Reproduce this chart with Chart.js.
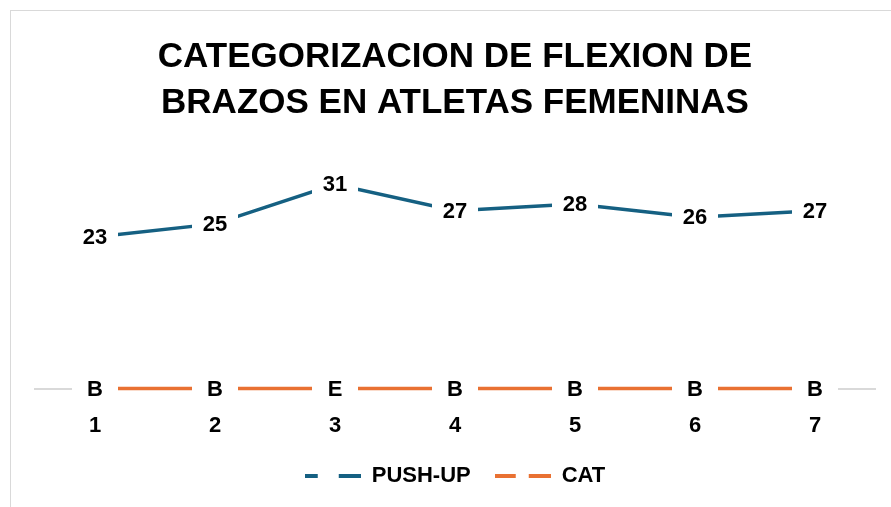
<!DOCTYPE html>
<html lang="es">
<head>
  <meta charset="UTF-8" />
  <title>Categorizacion de flexion de brazos</title>
  <script src="https://cdn.jsdelivr.net/npm/chart.js"></script>
  <style>
    html, body { margin: 0; padding: 0; background: #fff; overflow: hidden; }
    #frame { position: absolute; left: 10px; top: 10px; width: 900px; height: 520px; border: 1px solid #d9d9d9; }
    #box { position: absolute; left: 0; top: 0; width: 891px; height: 507px; }
  </style>
</head>
<body>
  <div id="frame"></div>
  <div id="box"><canvas id="chart"></canvas></div>

  <script>
    // datos
    const atletas = ['1', '2', '3', '4', '5', '6', '7'];
    const pushUp = [23, 25, 31, 27, 28, 26, 27];
    const catValores = [0, 0, 0, 0, 0, 0, 0];
    const catEtiquetas = ['B', 'B', 'E', 'B', 'B', 'B', 'B'];

    const AZUL = '#156082';
    const NARANJA = '#E97132';
    const FUENTE = "'Liberation Sans', Arial, sans-serif";

    // icono de leyenda: dos trazos
    function iconoLeyenda(color, a, b) {
      const c = document.createElement('canvas');
      c.width = 56; c.height = 4;
      const g = c.getContext('2d');
      g.fillStyle = color;
      g.fillRect(0, 0, a, 4);
      g.fillRect(56 - b, 0, b, 4);
      return c;
    }

    // etiquetas centradas en el punto con fondo blanco
    const etiquetas = {
      id: 'etiquetas',
      afterDatasetsDraw(chart) {
        const ctx = chart.ctx;
        ctx.save();
        ctx.font = 'bold 22px ' + FUENTE;
        ctx.textAlign = 'center';
        ctx.textBaseline = 'middle';
        chart.data.datasets.forEach((ds, i) => {
          const meta = chart.getDatasetMeta(i);
          meta.data.forEach((pt, j) => {
            const txt = ds.etiquetas ? ds.etiquetas[j] : String(ds.data[j]);
            ctx.fillStyle = '#fff';
            ctx.fillRect(pt.x - 23, pt.y - 12, 46, 24);
            ctx.fillStyle = '#000';
            ctx.fillText(txt, pt.x, pt.y + 1);
          });
        });
        ctx.restore();
      }
    };

    new Chart(document.getElementById('chart'), {
      type: 'line',
      data: {
        labels: atletas,
        datasets: [
          {
            label: 'PUSH-UP',
            data: pushUp,
            borderColor: AZUL,
            backgroundColor: AZUL,
            borderWidth: 3.5,
            pointRadius: 0,
            clip: false,
            pointStyle: iconoLeyenda(AZUL, 13, 22),
          },
          {
            label: 'CAT',
            data: catValores,
            etiquetas: catEtiquetas,
            borderColor: NARANJA,
            backgroundColor: NARANJA,
            borderWidth: 3.5,
            pointRadius: 0,
            clip: false,
            pointStyle: iconoLeyenda(NARANJA, 21, 22),
          },
        ],
      },
      options: {
        responsive: true,
        maintainAspectRatio: false,
        animation: false,
        layout: { padding: { left: 35, right: 16, top: 0, bottom: 10 } },
        plugins: {
          title: {
            display: true,
            text: ['CATEGORIZACION DE FLEXION DE', 'BRAZOS EN ATLETAS FEMENINAS'],
            color: '#000',
            font: { family: FUENTE, size: 35, weight: 'bold', lineHeight: 1.314 },
            padding: { top: 34, bottom: 32 },
          },
          legend: {
            position: 'bottom',
            labels: {
              usePointStyle: true,
              pointStyleWidth: 56,
              color: '#000',
              font: { family: FUENTE, size: 22, weight: 'bold' },
              padding: 24,
            },
          },
          tooltip: { enabled: false },
        },
        scales: {
          x: {
            offset: true,
            grid: { display: false, drawTicks: false },
            border: { display: true, color: '#d9d9d9', width: 2 },
            ticks: { color: '#000', font: { family: FUENTE, size: 22, weight: 'bold' }, padding: 24 },
            afterFit: (axis) => { axis.height -= 22; },
          },
          y: {
            display: false,
            min: 0,
            max: 35,
          },
        },
      },
      plugins: [etiquetas],
    });
  </script>
</body>
</html>
